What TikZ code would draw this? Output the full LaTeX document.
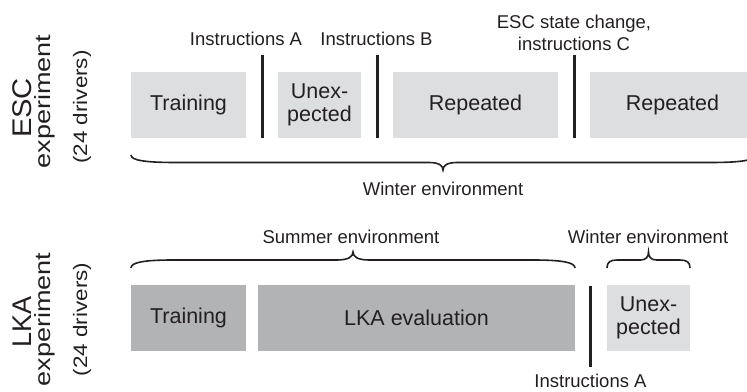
\documentclass[tikz,border=0pt]{standalone}
\usepackage{graphicx}
\usepackage{fontspec}
\setmainfont{Liberation Sans}
\definecolor{ink}{HTML}{231F20}
\definecolor{lightbox}{RGB}{221,222,224}
\definecolor{darkbox}{RGB}{178,179,181}

% Curly brace: x1, x2, y at the ends, y at the tip, curl length, tip half-width
\newcommand{\phasebrace}[6]{%
  \pgfmathsetmacro\bxm{(#1+#2)/2}%
  \pgfmathsetmacro\bym{(#3+#4)/2}%
  \draw[bracestyle] (#1,#3)
    .. controls (#1,{#3+(\bym-#3)*0.7}) and ({#1+#5*0.3},\bym) .. ({#1+#5},\bym)
    -- ({\bxm-#6},\bym)
    .. controls ({\bxm-#6*0.3},\bym) and (\bxm,{\bym+(#4-\bym)*0.4}) .. (\bxm,#4)
    .. controls (\bxm,{\bym+(#4-\bym)*0.4}) and ({\bxm+#6*0.3},\bym) .. ({\bxm+#6},\bym)
    -- ({#2-#5},\bym)
    .. controls ({#2-#5*0.3},\bym) and (#2,{#3+(\bym-#3)*0.7}) .. (#2,#3);
}
% Side titles are set slightly widened along the reading direction
\newcommand{\widetext}[2]{\scalebox{#1}[1]{#2}}

\begin{document}
\begin{tikzpicture}[x=1pt,y=-1pt,
  phase/.style={inner sep=0pt, minimum height=65.5pt, align=center, text=ink,
    font=\fontsize{21.5}{23}\selectfont},
  light/.style={phase, fill=lightbox},
  dark/.style={phase, fill=darkbox},
  tag/.style={text=ink, font=\fontsize{18.5}{22.5}\selectfont, inner sep=0pt, anchor=base},
  sidetitle/.style={text=ink, inner sep=0pt, rotate=90, anchor=base},
  bigname/.style={sidetitle, font=\fontsize{27}{30}\selectfont},
  subname/.style={sidetitle, font=\fontsize{22}{26}\selectfont},
  drivers/.style={sidetitle, font=\fontsize{19.5}{23}\selectfont},
  divider/.style={draw=ink, line width=3pt},
  bracestyle/.style={draw=ink, line width=1.6pt}]

\useasboundingbox (0,0) rectangle (747,391);
\clip (0,0) rectangle (747,391);

% ---------- ESC experiment ----------
\node[bigname] (escName) at (31.7,108) {\widetext{1.08}{ESC}};
\node[subname] (escExp) at (50.7,101.5) {\widetext{1.23}{experiment}};
\node[drivers] (escDrv) at (87,107) {\widetext{1.15}{(24 drivers)}};

\node[light, minimum width=115pt] (escTrain) at (188.5,104.75) {Training};
\node[light, minimum width=83pt]  (escUnex)  at (319.5,104.75) {Unex-\\pected};
\node[light, minimum width=165pt] (escRep1)  at (475.5,104.75) {Repeated};
\node[light, minimum width=165pt] (escRep2)  at (672.5,104.75) {Repeated};

\draw[divider] (262,55) -- (262,137.5);
\draw[divider] (377,55) -- (377,137.5);
\draw[divider] (574,55) -- (574,137.5);

\node[tag] (escInstrA) at (246,45.7) {Instructions A};
\node[tag] (escInstrB) at (376.5,45.7) {Instructions B};
\node[tag] (escStateA) at (574,28) {ESC state change,};
\node[tag] (escStateB) at (574,50.5) {instructions C};

\phasebrace{131}{755}{155}{170}{45}{14}
\node[tag] (escWinter) at (443,195) {Winter environment};

% ---------- LKA experiment ----------
\node[bigname] (lkaName) at (31.7,322) {\widetext{1.0}{LKA}};
\node[subname] (lkaExp) at (50.7,319.5) {\widetext{1.23}{experiment}};
\node[drivers] (lkaDrv) at (87,319.5) {\widetext{1.15}{(24 drivers)}};

\node[dark, minimum width=115pt]  (lkaTrain) at (188.5,318) {Training};
\node[dark, minimum width=317pt]  (lkaEval)  at (416.5,318) {LKA evaluation};
\node[light, minimum width=83pt]  (lkaUnex)  at (648.5,318) {Unex-\\pected};

\draw[divider] (590,286) -- (590,367);
\node[tag] (lkaInstrA) at (590.5,387.5) {Instructions A};

\phasebrace{131}{575}{268}{252}{42}{16}
\node[tag] (lkaSummer) at (351,243) {Summer environment};

\phasebrace{607}{690}{268}{252}{10}{8}
\node[tag] (lkaWinter) at (648,243) {Winter environment};

\end{tikzpicture}
\end{document}
